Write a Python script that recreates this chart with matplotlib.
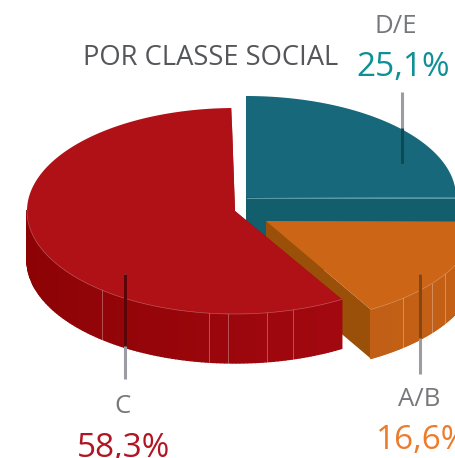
import numpy as np
import matplotlib
matplotlib.use("Agg")
import matplotlib.pyplot as plt
from matplotlib.colors import LinearSegmentedColormap

plt.rcParams["font.family"] = ["Open Sans", "DejaVu Sans"]

# dados do gráfico
classes = ["C", "D/E", "A/B"]
valores = [58.3, 25.1, 16.6]
rotulos = ["58,3%", "25,1%", "16,6%"]

RY, ALTURA = 102, 49

# ---- estilos / posicoes por fatia ----
ESTILO = {
    "C": dict(centro=(235, 211), rx=208, ry=103, topo="#b01116",
              lado=("#a90a13", "#8d0305"), corte="#8d0305"),
    "D/E": dict(centro=(246, 197), rx=210, ry=101, topo="#16687a",
                lado=("#135e6c", "#135e6c"), corte="#135e6c"),
    "A/B": dict(centro=(266, 221), rx=210, ry=102, topo="#cc6516",
                lado=("#c46016", "#b55c14"), corte="#9a5008"),
}
# linhas claras dos gomos na lateral (x em pixels)
GOMOS = {"C": [103, 211, 229, 268, 292], "A/B": [403, 432, 445]}
ordem = {"D/E": 1, "A/B": 2, "C": 3}


def fatia(ax, nome, ang_ini, ang_fim):
    """ang_ini > ang_fim em graus, sentido horário na tela."""
    est = ESTILO[nome]
    cx, cy = est["centro"]
    rx, ry = est["rx"], est["ry"]
    t = np.radians(np.linspace(ang_ini, ang_fim, 200))
    xs = cx + rx * np.cos(t)
    ys = cy - ry * np.sin(t)

    # corte plano visível (lado reto voltado para frente)
    for i in (0, -1):
        ax.fill([cx, xs[i], xs[i], cx], [cy, ys[i], ys[i] + ALTURA, cy + ALTURA],
                color=est["corte"], lw=0, zorder=ordem[nome])

    # lateral curva, faixa a faixa para o degradê
    cmap = LinearSegmentedColormap.from_list("l", est["lado"])
    idx = np.where(np.sin(t) <= 0.02)[0]
    if len(idx) > 1:
        for i, j in zip(idx[:-1], idx[1:]):
            frac = (xs[i] - 27) / 416
            ax.fill([xs[i], xs[j], xs[j], xs[i]],
                    [ys[i], ys[j], ys[j] + ALTURA, ys[i] + ALTURA],
                    color=cmap(1 - frac), lw=1.0, zorder=ordem[nome])
        for xg in GOMOS.get(nome, []):
            k = idx[np.argmin(np.abs(xs[idx] - xg))]
            ax.plot([xs[k], xs[k]], [ys[k], ys[k] + ALTURA], color="white",
                    alpha=0.3, lw=0.7, zorder=ordem[nome] + 0.1)

    # tampa
    ax.fill(np.r_[cx, xs], np.r_[cy, ys], color=est["topo"], lw=0,
            zorder=ordem[nome] + 0.2)
    if len(idx) > 1:
        ax.plot(xs[idx], ys[idx], color="white", alpha=0.3, lw=0.5,
                zorder=ordem[nome] + 0.3)


fig = plt.figure(figsize=(4.56, 4.58), dpi=100)
ax = fig.add_axes([0, 0, 1, 1])
ax.set_xlim(0, 456)
ax.set_ylim(458, 0)
ax.axis("off")

# ângulos a partir dos valores: D/E começa no topo e segue horário; C vai anti-horário
graus = dict(zip(classes, np.array(valores) * 3.6))
fatia(ax, "D/E", 90, 90 - graus["D/E"])
fatia(ax, "A/B", 90 - graus["D/E"], 90 - graus["D/E"] - graus["A/B"])
fatia(ax, "C", 91 + graus["C"], 91)

# borda clara entre tampa e corte do D/E
ax.plot([247, 456], [198, 198], color="#5d9aa6", lw=0.7, zorder=1.5)

# linhas-guia: cinza fora da pizza, escura sobre ela
GUIA = "#9c9ca2"
guias = [(402, 92, 164, 128, "#0e4a56"), (420, 274, 374, 338, "#874610"),
         (125, 274, 379, 346, "#5c0508")]
for x, y0, y1, y_esc, cor in guias:
    ax.plot([x, x], [y0, y1], color=GUIA, lw=2.2, solid_capstyle="butt", zorder=5)
    # trecho escuro: no D/E fica embaixo, nos outros em cima
    ini, fim = (y_esc, y1) if x == 402 else (y0, y_esc)
    ax.plot([x, x], [ini, fim], color=cor, lw=2.2, solid_capstyle="butt", zorder=6)

# textos (o original corta 58,3% embaixo e 16,6% à direita)
CINZA = "#77787c"
ax.text(211, 65, "POR CLASSE SOCIAL", color="#55565a", fontsize=19.7, ha="center", va="baseline")
ax.text(396, 33, classes[1], color=CINZA, fontsize=18.5, ha="center", va="baseline")
ax.text(403, 76, rotulos[1], color="#0f8f96", fontsize=24, ha="center", va="baseline")
ax.text(123, 413, classes[0], color=CINZA, fontsize=18.5, ha="center", va="baseline")
ax.text(124, 457, rotulos[0], color="#b01622", fontsize=24, ha="center", va="baseline")
ax.text(419, 406, classes[2], color=CINZA, fontsize=18.5, ha="center", va="baseline")
ax.text(376, 449, rotulos[2], color="#ee7a2b", fontsize=24, ha="left", va="baseline")

fig.savefig("out.png", dpi=100)
plt.close(fig)
